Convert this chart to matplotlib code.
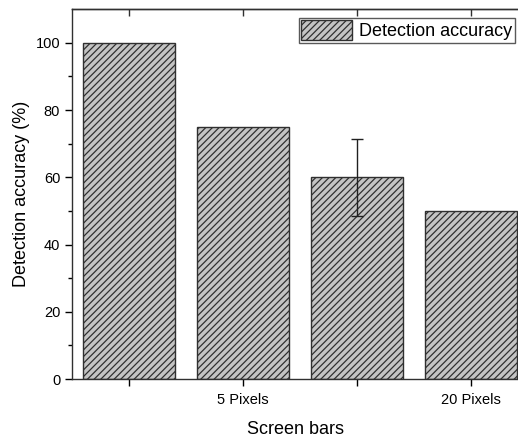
import matplotlib.pyplot as plt
import numpy as np

# data
categories = ["", "5 Pixels", "", "20 Pixels"]
accuracy = [100, 75, 60, 50]
errors = [0, 0, 11.5, 0]

plt.rcParams['font.family'] = ['Liberation Sans', 'DejaVu Sans']
plt.rcParams['hatch.linewidth'] = 0.9
plt.rcParams['hatch.color'] = '#303030'

fig = plt.figure(figsize=(5.18, 4.37), dpi=100)
ax = fig.add_axes([0.139, 0.1327, 0.861, 0.8463])

x = np.arange(len(categories))
ax.bar(x, accuracy, width=0.81, color='#c4c4c4', edgecolor='#303030',
       linewidth=1.0, hatch='/////', label='Detection accuracy', zorder=2)

err = np.array(errors)
sel = err > 0
ax.errorbar(x[sel], np.array(accuracy)[sel], yerr=err[sel], fmt='none',
            ecolor='#202020', elinewidth=1.0, capsize=4, capthick=1.0, zorder=3)

ax.set_xlim(-0.5, 3.41)
ax.set_ylim(0, 110)
ax.set_xticks(x)
ax.set_xticklabels(categories, fontsize=10.5)
ax.set_yticks(np.arange(0, 101, 20))
ax.set_yticks(np.arange(10, 101, 20), minor=True)
ax.tick_params(axis='y', which='major', direction='out', length=5, width=1, labelsize=10.5)
ax.tick_params(axis='y', which='minor', direction='out', length=3, width=1)
ax.tick_params(axis='x', which='major', direction='out', length=5, width=1, pad=5)

# top axis: ticks pointing inward, no labels
top = ax.secondary_xaxis('top')
top.set_xticks(x)
top.set_xticklabels([])
top.tick_params(direction='in', length=5, width=1, color='#303030')
top.spines['top'].set_linewidth(1.0)
top.spines['top'].set_color('#303030')

ax.spines['right'].set_visible(False)
for s in ['left', 'bottom', 'top']:
    ax.spines[s].set_linewidth(1.0)
    ax.spines[s].set_color('#303030')

ax.set_xlabel('Screen bars', fontsize=13, labelpad=10)
ax.set_ylabel('Detection accuracy (%)', fontsize=13)

leg = ax.legend(loc='upper right', fontsize=13, frameon=True, fancybox=False,
                edgecolor='#303030', borderpad=0.15, handlelength=2.8,
                handleheight=1.3, handletextpad=0.4, borderaxespad=0,
                bbox_to_anchor=(0.993, 0.977))
leg.get_frame().set_linewidth(1.0)

fig.savefig('out.png', dpi=100)
